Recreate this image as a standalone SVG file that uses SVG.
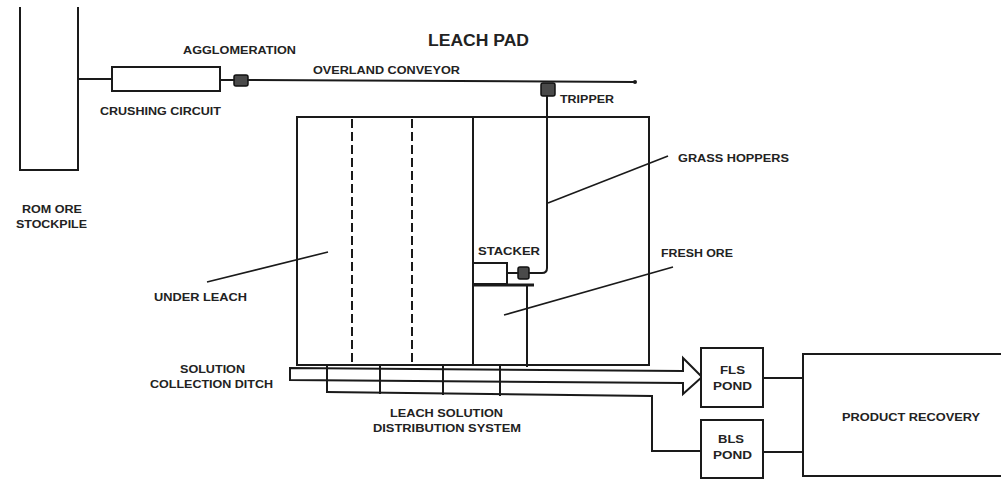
<svg xmlns="http://www.w3.org/2000/svg" width="1001" height="481" viewBox="0 0 1001 481">
<style>
.ln{fill:none;stroke:#1a1a1a;stroke-width:2;stroke-linecap:square}
.thin{fill:none;stroke:#1a1a1a;stroke-width:1.6}
.box{fill:#fff;stroke:#1a1a1a;stroke-width:2}
.eq{fill:#4a4a4a;stroke:#111;stroke-width:1.5}
.dash{fill:none;stroke:#1a1a1a;stroke-width:2;stroke-dasharray:9 4}
text{font-family:"Liberation Sans",Arial,sans-serif;font-weight:bold;font-size:11.5px;fill:#222}
.big{font-size:16px}
</style>
<rect width="1001" height="481" fill="#fff"/>

<g id="stockpile">
<path class="ln" d="M20,8 V170 H78 V8"/>
<text x="22" y="213" textLength="60" lengthAdjust="spacingAndGlyphs">ROM ORE</text>
<text x="16" y="228" textLength="71" lengthAdjust="spacingAndGlyphs">STOCKPILE</text>
</g>

<g id="crushing-circuit">
<rect class="box" x="112" y="67" width="108" height="24"/>
<text x="100" y="115" textLength="121" lengthAdjust="spacingAndGlyphs">CRUSHING CIRCUIT</text>
</g>

<g id="agglomeration">
<rect class="eq" x="234" y="75" width="14" height="11" rx="2"/>
<text x="183" y="54" textLength="113" lengthAdjust="spacingAndGlyphs">AGGLOMERATION</text>
</g>

<g id="title">
<text class="big" x="428" y="46" textLength="101" lengthAdjust="spacingAndGlyphs">LEACH PAD</text>
</g>

<g id="overland-conveyor">
<text x="313" y="74" textLength="147" lengthAdjust="spacingAndGlyphs">OVERLAND CONVEYOR</text>
</g>

<g id="tripper">
<rect class="eq" x="541" y="83" width="14" height="13" rx="2"/>
<text x="560" y="103" textLength="54" lengthAdjust="spacingAndGlyphs">TRIPPER</text>
</g>

<g id="leach-pad">
<rect class="box" x="297" y="117" width="352" height="248"/>
<line class="dash" x1="352" y1="119" x2="352" y2="364"/>
<line class="dash" x1="412" y1="119" x2="412" y2="364"/>
<line class="ln" x1="473" y1="117" x2="473" y2="365"/>
<text x="154" y="301" textLength="93" lengthAdjust="spacingAndGlyphs">UNDER LEACH</text>
<text x="661" y="257" textLength="72" lengthAdjust="spacingAndGlyphs">FRESH ORE</text>
</g>

<g id="stacker">
<rect class="box" x="473" y="263" width="34" height="21"/>
<rect class="eq" x="518" y="267" width="11" height="12" rx="2"/>
<line x1="473" y1="285" x2="534" y2="285" stroke="#1a1a1a" stroke-width="3"/>
<text x="478" y="255" textLength="62" lengthAdjust="spacingAndGlyphs">STACKER</text>
</g>

<g id="grass-hoppers">
<text x="678" y="162" textLength="111" lengthAdjust="spacingAndGlyphs">GRASS HOPPERS</text>
</g>

<g id="collection-ditch">
<polygon class="box" points="290,368 683,371 683,358 702,377 683,394 683,383 290,380"/>
<text x="180" y="373" textLength="65" lengthAdjust="spacingAndGlyphs">SOLUTION</text>
<text x="150" y="388" textLength="123" lengthAdjust="spacingAndGlyphs">COLLECTION DITCH</text>
</g>

<g id="distribution-system">
<text x="390" y="417" textLength="113" lengthAdjust="spacingAndGlyphs">LEACH SOLUTION</text>
<text x="373" y="432" textLength="148" lengthAdjust="spacingAndGlyphs">DISTRIBUTION SYSTEM</text>
</g>

<g id="fls-pond">
<rect class="box" x="701" y="348" width="62" height="59"/>
<text x="720" y="374" textLength="25" lengthAdjust="spacingAndGlyphs">FLS</text>
<text x="713" y="390" textLength="39" lengthAdjust="spacingAndGlyphs">POND</text>
</g>

<g id="bls-pond">
<rect class="box" x="701" y="420" width="62" height="58"/>
<text x="718" y="443" textLength="26" lengthAdjust="spacingAndGlyphs">BLS</text>
<text x="713" y="459" textLength="39" lengthAdjust="spacingAndGlyphs">POND</text>
</g>

<g id="product-recovery">
<path class="ln" d="M1003,354 H803 V476 H1003"/>
<text x="842" y="421" textLength="138" lengthAdjust="spacingAndGlyphs">PRODUCT RECOVERY</text>
</g>

<g id="connectors">
<line class="ln" x1="78" y1="79" x2="112" y2="79"/>
<line class="ln" x1="220" y1="80" x2="234" y2="80"/>
<line class="ln" x1="248" y1="80" x2="634" y2="82"/>
<circle cx="635" cy="82" r="2" fill="#1a1a1a"/>
<path class="ln" d="M547,96 V268 Q547,273 542,273 H529"/>
<line class="ln" x1="507" y1="273" x2="518" y2="273"/>
<line class="ln" x1="527" y1="285" x2="527" y2="366"/>
<line class="thin" x1="207" y1="282" x2="328" y2="252"/>
<line class="thin" x1="504" y1="315" x2="673" y2="267"/>
<line class="thin" x1="548" y1="203" x2="668" y2="156"/>
<line class="ln" x1="327" y1="366" x2="327" y2="392"/>
<line class="ln" x1="380" y1="366" x2="380" y2="393"/>
<line class="ln" x1="443" y1="366" x2="443" y2="394"/>
<line class="ln" x1="500" y1="366" x2="500" y2="395"/>
<path class="ln" d="M327,392 L652,396 V451 H701"/>
<line class="ln" x1="763" y1="378" x2="803" y2="378"/>
<line class="ln" x1="763" y1="452" x2="803" y2="452"/>
</g>
</svg>
